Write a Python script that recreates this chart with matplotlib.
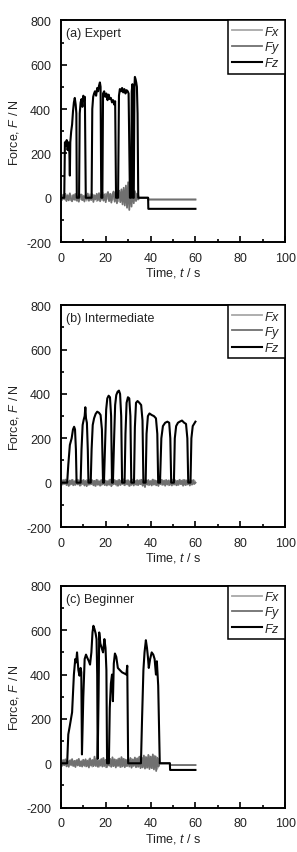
import numpy as np
import matplotlib
matplotlib.use("Agg")
import matplotlib.pyplot as plt
from matplotlib.ticker import MultipleLocator

plt.rcParams['font.family'] = ['Liberation Sans', 'DejaVu Sans']
plt.rcParams['font.size'] = 9
plt.rcParams['axes.unicode_minus'] = False
plt.rcParams['mathtext.fontset'] = 'custom'
plt.rcParams['mathtext.rm'] = 'Liberation Sans'
plt.rcParams['mathtext.it'] = 'Liberation Sans:italic'

titles = ["(a) Expert", "(b) Intermediate", "(c) Beginner"]

# ---- Fz key points (t in s, F in N)
fz_a_t = [0, 1.5, 1.8, 2.2, 2.6, 3.0, 3.4, 3.8, 4.0, 4.2, 4.6, 5.0, 5.4, 5.8, 6.2, 6.6, 6.9, 7.1,
          8.1, 8.4, 8.8, 9.2, 9.6, 10.0, 10.4, 10.7, 11.1,
          13.7, 14.0, 14.4, 14.8, 15.2, 15.7, 16.2, 16.6, 17.0, 17.4, 17.7, 18.0,
          18.5, 18.8, 19.3, 19.8, 20.3, 20.8, 21.3, 21.8, 22.3, 22.8, 23.3, 23.8, 24.2, 24.6,
          25.5, 25.9, 26.3, 26.8, 27.3, 27.8, 28.3, 28.8, 29.3, 29.8, 30.2, 30.8,
          31.3, 31.6, 31.9, 32.1, 32.5, 32.8, 33.0, 33.3, 33.6, 33.9, 34.2, 34.5,
          38.9, 39.0, 60]
fz_a_v = [0, 0, 250, 235, 260, 215, 250, 200, 100, 250, 300, 330, 390, 430, 450, 420, 380, 0,
          0, 380, 430, 445, 410, 460, 440, 455, 0,
          0, 400, 455, 470, 480, 460, 495, 480, 505, 520, 500, 0,
          0, 470, 480, 455, 470, 440, 465, 445, 450, 430, 440, 420, 435, 0,
          0, 460, 490, 480, 495, 475, 490, 470, 485, 480, 470, 0,
          0, 480, 512, 0, 0, 500, 545, 535, 520, 500, 380, 0,
          0, -50, -50]

fz_b_t = [0, 2.8, 3.3, 4.0, 4.8, 5.4, 5.9, 6.3, 6.7, 7.0,
          8.8, 9.2, 9.7, 10.2, 10.6, 10.9, 11.2, 11.6, 12.0, 12.3,
          13.3, 13.7, 14.2, 14.8, 15.5, 16.2, 17.0, 17.7, 18.3, 18.8,
          19.2, 19.8, 20.2, 20.7, 21.3, 21.9, 22.4, 22.8,
          23.2, 23.8, 24.2, 24.7, 25.3, 25.9, 26.4, 26.9, 27.3,
          28.4, 28.8, 29.3, 29.9, 30.5, 31.0, 31.4,
          32.6, 33.0, 33.5, 34.2, 35.0, 35.8, 36.4, 36.8,
          37.8, 38.2, 38.8, 39.5, 40.5, 41.5, 42.4, 43.0, 43.4,
          44.2, 44.8, 45.5, 46.5, 47.5, 48.3, 48.8, 49.2,
          50.4, 50.8, 51.4, 52.2, 53.0, 54.0, 55.0, 55.8, 56.4, 56.8,
          57.8, 58.2, 58.8, 59.4, 60.0]
fz_b_v = [0, 0, 80, 170, 200, 240, 252, 240, 150, 0,
          0, 150, 260, 285, 300, 340, 290, 270, 150, 0,
          0, 150, 260, 290, 310, 320, 315, 305, 240, 0,
          0, 200, 330, 380, 392, 385, 300, 0,
          0, 220, 350, 395, 410, 415, 400, 300, 0,
          0, 220, 360, 385, 380, 300, 0,
          0, 250, 360, 368, 360, 350, 280, 0,
          0, 220, 300, 312, 305, 300, 290, 220, 0,
          0, 200, 255, 270, 275, 270, 200, 0,
          0, 200, 255, 270, 275, 280, 270, 265, 200, 0,
          0, 200, 255, 265, 275]

fz_c_t = [0, 2.8, 3.3, 4.0, 5.0, 5.8, 6.4, 6.8, 7.2, 7.8, 8.3, 8.8, 9.1, 9.4,
          10.0, 10.6, 11.2, 11.8, 12.5, 13.0, 13.6, 14.1, 14.5, 15.0, 15.5, 15.9, 16.2, 16.4,
          16.8, 17.1, 17.6, 18.2, 18.8, 19.4, 19.9, 20.3, 20.6,
          21.4, 21.8, 22.3, 22.8, 23.2, 23.6, 24.1, 24.7, 25.4, 26.3, 27.3, 28.3, 29.2, 29.6, 30.0,
          35.7, 36.2, 36.8, 37.3, 37.9, 38.4, 38.8, 39.2, 39.8, 40.5, 41.2, 41.8, 42.4, 42.8, 43.4, 44.1,
          48.6, 48.7, 60]
fz_c_v = [0, 0, 130, 170, 230, 400, 470, 455, 500, 420, 395, 430, 410, 40,
          300, 470, 490, 475, 460, 445, 500, 590, 620, 605, 585, 560, 400, 20,
          300, 590, 540, 520, 500, 560, 520, 420, 0,
          0, 250, 360, 400, 280, 450, 495, 480, 430, 420, 410, 405, 400, 440, 0,
          0, 200, 420, 500, 555, 520, 480, 430, 470, 500, 490, 470, 400, 460, 350, 0,
          0, -30, -30]

# ---- Fx / Fy samples every 0.5 s while the task runs
fx_a = [0, 8, -6, 12, -10, 5, 14, -8, 3, -12, 10, -4, 15, -9, 6, -14, 11, 2, -7, 13,
        -11, 4, 9, -13, 7, -5, 16, -10, 3, 12, -8, 6, -15, 10, -3, 14, -9, 5, -12, 8,
        18, -6, 11, -14, 7, 15, -10, 4, 20, -8, 12, -16, 9, 22, -12, 6, 25, -18, 14, 35,
        -20, 30, -25, 40, -15, 28, -10, 20, -8, 12, 0]
fy_a = [0, -10, 14, -6, 18, -15, 9, -12, 20, -5, -16, 12, -9, 17, -13, 6, -18, 10, 15, -11,
        8, -17, 13, -6, 19, -14, 7, -10, 16, -19, 11, -7, 18, -12, 21, -16, 9, 24, -13, 15,
        -20, 12, 26, -15, 18, -22, 10, 28, -18, 22, -25, 15, 32, -20, 38, -30, 45, -35, 55, -45,
        70, -55, 60, -40, 45, -25, 30, -15, 18, -8, 0]

fx_b = [0, 6, -8, 10, -5, 12, -9, 4, -11, 8, -6, 11, -10, 7, -4, 13, -8, 5, -12, 9,
        -7, 10, -5, 12, -11, 6, -9, 14, -6, 8, -13, 10, -4, 11, -8, 7, -12, 9, -5, 13,
        -10, 6, -7, 12, -9, 4, -11, 10, -6, 8, -14, 11, -5, 9, -8, 12, -10, 7, -4, 11,
        -9, 6, -13, 10, -7, 12, -5, 8, -11, 9, -6, 13, -8, 5, -10, 11, -7, 9, -12, 6,
        -4, 10, -9, 12, -6, 8, -11, 7, -5, 13, -10, 9, -7, 11, -8, 6, -12, 10, -5, 8,
        -9, 12, -6, 7, -11, 10, -4, 9, -8, 13, -7, 11, -10, 6, -5, 12, -9, 8, -6, 10, 0]
fy_b = [0, -9, 12, -6, 14, -11, 8, -15, 10, -7, 13, -12, 6, -10, 15, -8, 11, -14, 9, -6,
        12, -13, 7, -16, 10, -9, 14, -7, 11, -12, 8, -15, 13, -10, 6, -14, 12, -8, 15, -11,
        9, -13, 7, -10, 14, -16, 11, -7, 12, -9, 8, -14, 13, -11, 10, -6, 15, -12, 9, -8,
        11, -15, 7, -10, 14, -13, 8, -9, 12, -11, 10, -7, 13, -14, 9, -20, 11, -8, 12, -10,
        7, -13, 14, -9, 10, -12, 8, -15, 11, -7, 13, -10, 9, -14, 12, -8, 10, -11, 7, -13,
        14, -9, 11, -12, 8, -10, 13, -7, 9, -14, 12, -11, 10, -8, 7, -13, 11, -9, 12, -6, 0]

fx_c = [0, 10, -8, 14, -6, 12, -11, 9, -5, 15, -10, 7, -13, 11, -4, 16, -9, 8, -12, 13,
        -7, 10, -14, 12, -6, 18, -10, 9, -15, 14, -8, 20, -12, 11, -16, 15, -9, 22, -13, 12,
        -18, 16, -10, 24, -14, 13, -11, 18, -8, 15, -12, 20, -10, 14, -16, 22, -9, 18, -13, 12,
        -7, 15, -11, 20, -14, 17, -10, 22, -15, 25, -12, 28, -18, 24, -14, 30, -20, 26, -16, 32,
        -18, 28, -22, 35, -15, 30, -25, 20, 0]
fy_c = [0, -12, 15, -9, 18, -14, 10, -16, 13, -8, 19, -12, 11, -17, 14, -10, 20, -13, 9, -15,
        16, -11, 18, -14, 12, -19, 22, -10, 15, -13, 30, -12, 17, -16, 13, -11, 19, -15, 24, -12,
        16, -18, 14, -10, 20, -16, 27, -13, 18, -19, 15, -12, 22, -17, 28, -14, 20, -18, 16, -13,
        19, -15, 24, -20, 17, -12, 26, -18, 21, -16, 30, -22, 25, -19, 35, -24, 28, -20, 38, -26,
        30, -22, 40, -28, 32, -35, 25, -15, 0]

# level of Fx / Fy after the task: (end of noise, step time, offset)
tail_a = ([35.5, 38.9, 39.0, 60], [0, 0, -8, -8])
tail_c = ([44.5, 48.6, 48.7, 60], [0, 0, -8, -8])

panels = [
    (fz_a_t, fz_a_v, fx_a, fy_a, tail_a),
    (fz_b_t, fz_b_v, fx_b, fy_b, None),
    (fz_c_t, fz_c_v, fx_c, fy_c, tail_c),
]

fig = plt.figure(figsize=(2.97, 8.53), dpi=100)
bottoms = [0.715, 0.381, 0.052]
txt = '#222222'

for k, (zt, zv, fx, fy, tail) in enumerate(panels):
    ax = fig.add_axes([0.205, bottoms[k], 0.755, 0.26])
    tx = np.arange(len(fx)) * 0.5
    ty = np.arange(len(fy)) * 0.5
    xt, xv = list(tx), list(fx)
    yt, yv = list(ty), list(fy)
    if tail is not None:
        xt += tail[0]; xv += tail[1]
        yt += tail[0]; yv += tail[1]
    ax.plot(xt, xv, color='#a8a8a8', lw=1.3, label=r'$Fx$')
    ax.plot(yt, yv, color='#707070', lw=1.3, label=r'$Fy$')
    ax.plot(zt, zv, color='black', lw=1.5, label=r'$Fz$')

    ax.set_xlim(0, 100)
    ax.set_ylim(-200, 800)
    ax.xaxis.set_major_locator(MultipleLocator(20))
    ax.xaxis.set_minor_locator(MultipleLocator(10))
    ax.yaxis.set_major_locator(MultipleLocator(200))
    ax.yaxis.set_minor_locator(MultipleLocator(100))
    ax.tick_params(which='both', direction='in', top=False, right=False, width=1.2,
                   labelcolor=txt)
    ax.tick_params(which='major', length=4, pad=7)
    ax.tick_params(which='minor', length=2.5)
    for s in ax.spines.values():
        s.set_linewidth(1.4)

    ax.set_xlabel(r'Time, $t$ / s', labelpad=1, color=txt)
    ax.set_ylabel(r'Force, $F$ / N', labelpad=4, color=txt)
    ax.text(0.022, 0.97, titles[k], transform=ax.transAxes, ha='left', va='top', color=txt)

    leg = ax.legend(loc='upper right', borderaxespad=0, fancybox=False, framealpha=1,
                    edgecolor='black', handlelength=2.4, handletextpad=0.15,
                    labelspacing=0.1, borderpad=0.35, fontsize=9)
    leg.get_frame().set_linewidth(1.1)
    for t in leg.get_texts():
        t.set_color(txt)

fig.savefig('out.png', dpi=100)
